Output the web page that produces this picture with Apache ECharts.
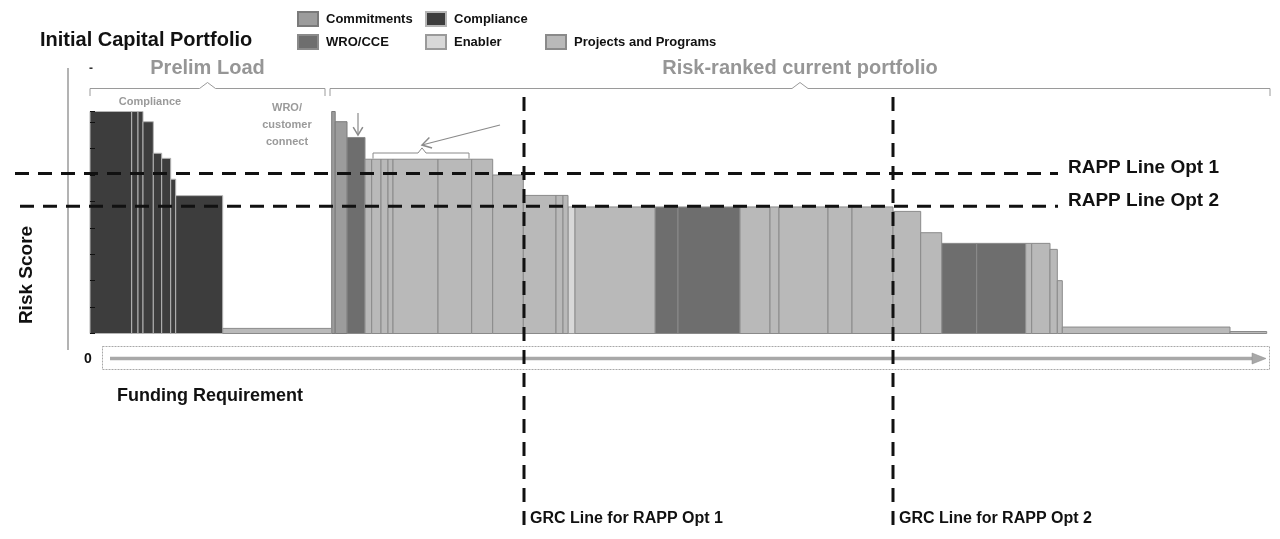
<!DOCTYPE html>
<html><head><meta charset="utf-8">
<script src="https://cdn.jsdelivr.net/npm/echarts@6/dist/echarts.min.js"></script>
<style>html,body{margin:0;padding:0;background:#fff}#c{width:1280px;height:539px}</style>
</head><body><div id="c"></div>
<script>
// ---- data ----
const categories = ['Commitments', 'Compliance', 'WRO/CCE', 'Enabler', 'Projects and Programs'];
// funding requirement (width) of each project, in ranked order
const fundingWidths = [41.7, 6.3, 5, 10.3, 8.4, 9, 5, 47, 109,
  3.5, 11.8, 18, 6.7, 9.3, 7, 5, 45, 33.7, 21, 30.6, 32.7, 7, 5,
  7, 80, 23, 62, 30, 9, 49, 24, 41, 27.7, 21, 35, 49, 6, 18.3, 7.3, 5, 167.7, 36.7];
// risk score (height) of each project
const riskScores = [100, 100, 100, 95.4, 81.2, 78.9, 69.5, 62.1, 2.3,
  100, 95.4, 88.3, 78.5, 78.5, 78.5, 78.5, 78.5, 78.5, 78.5, 71.4, 62.2, 62.2, 62.2,
  57, 57, 57, 57, 57, 57, 57, 57, 57, 55, 45.4, 40.6, 40.6, 40.6, 40.6, 37.9, 23.8, 2.9, 0.9];
// category of each project
const projectCategories = ['Compliance', 'Compliance', 'Compliance', 'Compliance', 'Compliance', 'Compliance', 'Compliance', 'Compliance', 'Projects and Programs',
  'Commitments', 'Commitments', 'WRO/CCE', 'Projects and Programs', 'Projects and Programs', 'Projects and Programs', 'Projects and Programs', 'Projects and Programs', 'Projects and Programs', 'Projects and Programs', 'Projects and Programs', 'Projects and Programs', 'Projects and Programs', 'Projects and Programs',
  'Enabler', 'Projects and Programs', 'WRO/CCE', 'WRO/CCE', 'Projects and Programs', 'Projects and Programs', 'Projects and Programs', 'Projects and Programs', 'Projects and Programs', 'Projects and Programs', 'Projects and Programs', 'WRO/CCE', 'WRO/CCE', 'Projects and Programs', 'Projects and Programs', 'Projects and Programs', 'Projects and Programs', 'Projects and Programs', 'Projects and Programs'];
const rappLineValues = [72.1, 57.3];
const rappLineLabels = ['RAPP Line Opt 1', 'RAPP Line Opt 2'];
const grcLineFunding = [434, 803];
const grcLineLabels = ['GRC Line for RAPP Opt 1', 'GRC Line for RAPP Opt 2'];
const groupLabels = ['Prelim Load', 'Risk-ranked current portfolio'];
const groupExtents = [[0, 235], [240, 1180]];
const yTickInterval = 11.9;

// ---- styles ----
const FONT = '"Liberation Sans", Arial, sans-serif';
const catStyle = {
  'Commitments': { color: '#9c9c9c', border: '#7a7a7a' },
  'Compliance': { color: '#3d3d3d', border: '#b5b5b5' },
  'WRO/CCE': { color: '#6e6e6e', border: '#8a8a8a' },
  'Enabler': { color: '#d8d8d8', border: '#9a9a9a' },
  'Projects and Programs': { color: '#b9b9b9', border: '#8a8a8a' }
};

// build data per category with cumulative x
const seriesData = {};
categories.forEach(c => seriesData[c] = []);
let cum = 0;
fundingWidths.forEach((w, i) => {
  seriesData[projectCategories[i]].push([cum, cum + w, riskScores[i]]);
  cum += w;
});

function renderItem(params, api) {
  const p0 = api.coord([api.value(0), api.value(2)]);
  const p1 = api.coord([api.value(1), 0]);
  return {
    type: 'rect',
    shape: { x: p0[0], y: p0[1], width: p1[0] - p0[0], height: p1[1] - p0[1] },
    style: api.style()
  };
}

const legendPos = {
  'Commitments': [297, 11], 'Compliance': [425, 11],
  'WRO/CCE': [297, 34], 'Enabler': [425, 34], 'Projects and Programs': [545, 34]
};

const chart = echarts.init(document.getElementById('c'));
chart.setOption({
  animation: false,
  backgroundColor: '#fff',
  grid: { left: 90, right: 10, top: 111.5, bottom: 205.5 },
  xAxis: { type: 'value', min: 0, max: 1180, show: false },
  yAxis: {
    type: 'value', min: 0, max: 100, interval: yTickInterval, z: 10,
    axisLine: { show: false }, axisLabel: { show: false }, splitLine: { show: false },
    axisTick: { show: true, inside: true, length: 5, lineStyle: { color: '#111', width: 1 } }
  },
  legend: categories.map(c => ({
    data: [c], left: legendPos[c][0], top: legendPos[c][1], padding: 0,
    itemWidth: 20, itemHeight: 14, icon: 'rect', selectedMode: false,
    textStyle: { fontFamily: FONT, fontSize: 13, fontWeight: 'bold', color: '#111', padding: [0, 0, 0, 3] }
  })),
  series: categories.map(c => ({
    name: c, type: 'custom', renderItem, clip: false,
    itemStyle: { color: catStyle[c].color, borderColor: catStyle[c].border, borderWidth: 1 },
    encode: { x: [0, 1], y: 2 },
    data: seriesData[c]
  }))
});

const P = (x, y) => chart.convertToPixel({ gridIndex: 0 }, [x, y]);
const g = [];
const txt = (text, x, y, size, color, align) => ({
  type: 'text', z: 100,
  style: { text, x, y, font: 'bold ' + size + 'px ' + FONT, fill: color,
    textAlign: align || 'left', align: align || 'left', textVerticalAlign: 'middle', verticalAlign: 'middle' }
});
const line = (x1, y1, x2, y2, stroke, w, dash) => ({
  type: 'line', z: 90, shape: { x1, y1, x2, y2 },
  style: { stroke, lineWidth: w, lineDash: dash || null }
});
const head = (tip, from, size, color) => {
  const dx = tip[0] - from[0], dy = tip[1] - from[1], L = Math.hypot(dx, dy);
  const ux = dx / L, uy = dy / L;
  const bx = tip[0] - ux * size, by = tip[1] - uy * size;
  return { type: 'polyline', z: 90, shape: { points: [[bx - uy * size * 0.6, by + ux * size * 0.6], tip, [bx + uy * size * 0.6, by - ux * size * 0.6]] },
    style: { stroke: color, lineWidth: 1.5, fill: null } };
};

// titles
g.push(txt('Initial Capital Portfolio', 40, 40, 20, '#111'));
g.push(txt('Funding Requirement', 117, 396, 18, '#111'));
g.push(txt('0', 88, 359, 14, '#111', 'center'));
g.push({ type: 'text', z: 100, x: 27, y: 275, rotation: Math.PI / 2,
  style: { text: 'Risk Score', x: 0, y: 0, font: 'bold 19px ' + FONT, fill: '#111', textAlign: 'center', align: 'center', textVerticalAlign: 'middle', verticalAlign: 'middle' } });
g.push(txt('-', 91, 69, 12, '#333', 'center'));

// left axis line
g.push(line(68, 68, 68, 350, '#9a9a9a', 1.5));

// group brackets + labels
groupExtents.forEach((ext, i) => {
  const a = P(ext[0], 0), b = P(ext[1], 0), mid = (a[0] + b[0]) / 2;
  const yb = 88.5;
  g.push({ type: 'polyline', z: 90, shape: { points: [[a[0], 96], [a[0], yb], [mid - 8, yb], [mid, yb - 6], [mid + 8, yb], [b[0], yb], [b[0], 96]] },
    style: { stroke: '#9a9a9a', lineWidth: 1, fill: null } });
  g.push(txt(groupLabels[i], mid, 68, 20, '#969696', 'center'));
});

// small in-chart labels
const cmp = P(60, 0);
g.push(txt('Compliance', cmp[0], 102, 11, '#9a9a9a', 'center'));
const wro = P(197, 0);
['WRO/', 'customer', 'connect'].forEach((t, i) => g.push(txt(t, wro[0], 108 + i * 17, 11, '#9a9a9a', 'center')));

// annotation arrows
const d0 = P(268, 99.3), d1 = P(268, 89.4);
g.push(line(d0[0], d0[1], d1[0], d1[1], '#8a8a8a', 1.2));
g.push(head(d1, d0, 8, '#8a8a8a'));
const a0 = P(410, 93.9), a1 = P(332, 84.9);
g.push(line(a0[0], a0[1], a1[0], a1[1], '#8a8a8a', 1.2));
g.push(head(a1, a0, 9, '#8a8a8a'));
const bl = P(283, 78.8), br = P(379, 78.8), bt = P(283, 81.3), bpk = P(332, 83.6);
g.push({ type: 'polyline', z: 90, shape: { points: [[bl[0], bl[1]], [bl[0], bt[1]], [bpk[0] - 4, bt[1]], [bpk[0], bpk[1]], [bpk[0] + 4, bt[1]], [br[0], bt[1]], [br[0], br[1]]] },
  style: { stroke: '#8a8a8a', lineWidth: 1, fill: null } });

// funding axis arrow box
g.push({ type: 'rect', z: 80, shape: { x: 102.5, y: 346.5, width: 1167, height: 23 }, style: { stroke: '#a8a8a8', lineWidth: 1, fill: null, lineDash: [2, 1] } });
g.push(line(110, 358.5, 1256, 358.5, '#a8a8a8', 3.5));
g.push({ type: 'polygon', z: 90, shape: { points: [[1252, 353], [1266, 358.5], [1252, 364]] }, style: { fill: '#a8a8a8', stroke: '#888', lineWidth: 0.5 } });

// RAPP lines
rappLineValues.forEach((v, i) => {
  const s = P(-75 + i * 5, v), e = P(968, v);
  g.push(line(s[0], s[1], e[0], e[1], '#111', 3, [14, 9]));
  g.push(txt(rappLineLabels[i], e[0] + 10, s[1] - 6, 19, '#111', 'left'));
});
// GRC lines
grcLineFunding.forEach((f, i) => {
  const s = P(f, 106.5), e = P(f, -86.3);
  g.push(line(s[0], s[1], e[0], e[1], '#111', 3, [14, 9]));
  g.push(txt(grcLineLabels[i], s[0] + 6, 519, 16, '#111', 'left'));
});

chart.setOption({ graphic: { elements: g } });
</script></body></html>
